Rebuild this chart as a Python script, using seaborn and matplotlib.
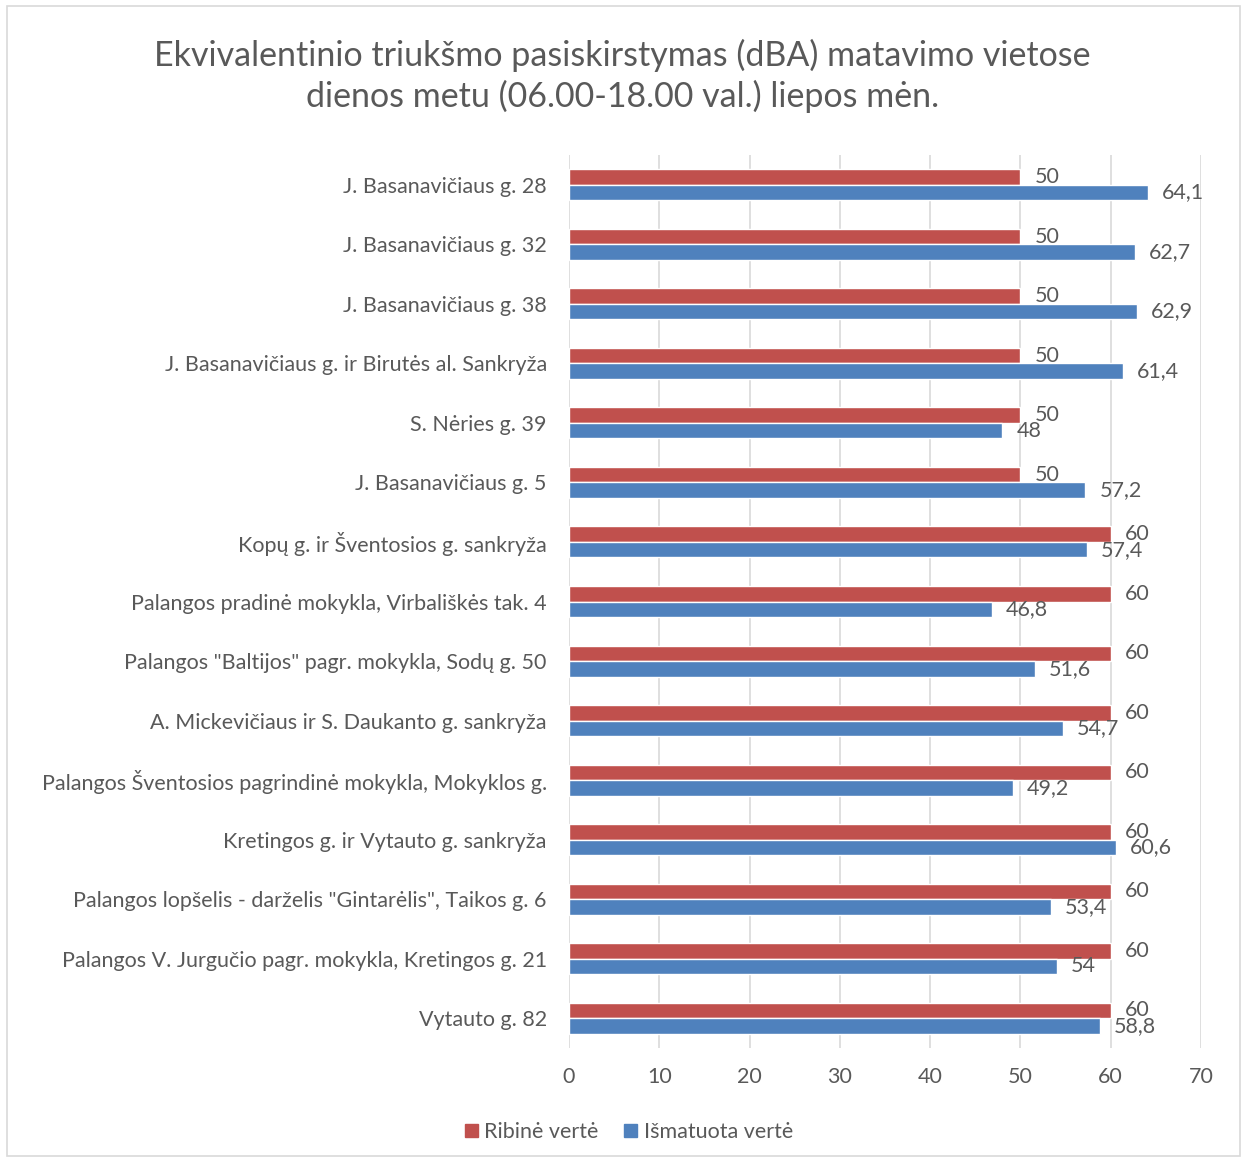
import matplotlib
matplotlib.use("Agg")
import matplotlib.pyplot as plt
import seaborn as sns
import pandas as pd
from matplotlib.patches import Rectangle

categories = [
    "J. Basanavičiaus g. 28",
    "J. Basanavičiaus g. 32",
    "J. Basanavičiaus g. 38",
    "J. Basanavičiaus g. ir Birutės al. Sankryža",
    "S. Nėries g. 39",
    "J. Basanavičiaus g. 5",
    "Kopų g. ir Šventosios g. sankryža",
    "Palangos pradinė mokykla, Virbališkės tak. 4",
    "Palangos \"Baltijos\" pagr. mokykla, Sodų g. 50",
    "A. Mickevičiaus ir S. Daukanto g. sankryža",
    "Palangos Šventosios pagrindinė mokykla, Mokyklos g.",
    "Kretingos g. ir Vytauto g. sankryža",
    "Palangos lopšelis - darželis \"Gintarėlis\", Taikos g. 6",
    "Palangos V. Jurgučio pagr. mokykla, Kretingos g. 21",
    "Vytauto g. 82",
]
limit_values = [50, 50, 50, 50, 50, 50, 60, 60, 60, 60, 60, 60, 60, 60, 60]
measured_values = [64.1, 62.7, 62.9, 61.4, 48, 57.2, 57.4, 46.8, 51.6, 54.7, 49.2, 60.6, 53.4, 54, 58.8]
series_names = ["Ribinė vertė", "Išmatuota vertė"]
title = "Ekvivalentinio triukšmo pasiskirstymas (dBA) matavimo vietose\ndienos metu (06.00-18.00 val.) liepos mėn."
x_ticks = [0, 10, 20, 30, 40, 50, 60, 70]

colors = ["#C0504D", "#4F81BD"]
text_color = "#595959"

df = pd.DataFrame({
    "Vieta": categories * 2,
    "Reikšmė": limit_values + measured_values,
    "Serija": [series_names[0]] * len(categories) + [series_names[1]] * len(categories),
})

sns.set_theme(style="white")
plt.rcParams["font.family"] = ["Lato", "DejaVu Sans"]

fig = plt.figure(figsize=(12.45, 11.64), dpi=100)
ax = fig.add_axes([569 / 1245, 116 / 1164, (1201 - 569) / 1245, (1048 - 155) / 1164])

sns.barplot(data=df, y="Vieta", x="Reikšmė", hue="Serija", hue_order=series_names,
            palette=colors, orient="h", width=0.52, ax=ax, saturation=1, legend=False)

ax.set_xlim(0, 70)
ax.set_xticks(x_ticks)
ax.set_xticklabels([str(t) for t in x_ticks])
ax.set_xlabel("")
ax.set_ylabel("")
ax.grid(axis="x", color="#D9D9D9", linewidth=1.2)
ax.set_axisbelow(True)
for s in ax.spines.values():
    s.set_visible(False)
ax.tick_params(axis="x", colors=text_color, labelsize=15.5, length=0, pad=14)
ax.tick_params(axis="y", colors=text_color, labelsize=15.5, length=0, pad=16)

def fmt(v):
    s = f"{v:g}"
    return s.replace(".", ",")

for cont in ax.containers:
    labels = [fmt(b.get_width()) for b in cont]
    ax.bar_label(cont, labels=labels, padding=10, color=text_color, fontsize=15.5)

fig.text(0.5, 1 - 76 / 1164, title, ha="center", va="center", fontsize=24.5,
         color=text_color, linespacing=1.32)

handles = [Rectangle((0, 0), 1, 1, color=c) for c in colors]
fig.legend(handles, series_names, loc="center", bbox_to_anchor=(0.505, 1 - 1132 / 1164),
           ncol=2, frameon=False, fontsize=15.5, labelcolor=text_color,
           handlelength=0.6, handleheight=0.6, handletextpad=0.3, columnspacing=1.2)

fig.patches.append(Rectangle((7 / 1245, 8 / 1164), 1233 / 1245, 1150 / 1164,
                             transform=fig.transFigure, fill=False,
                             edgecolor="#D9D9D9", linewidth=1.2))

fig.savefig("out.png", dpi=100, facecolor="white")
